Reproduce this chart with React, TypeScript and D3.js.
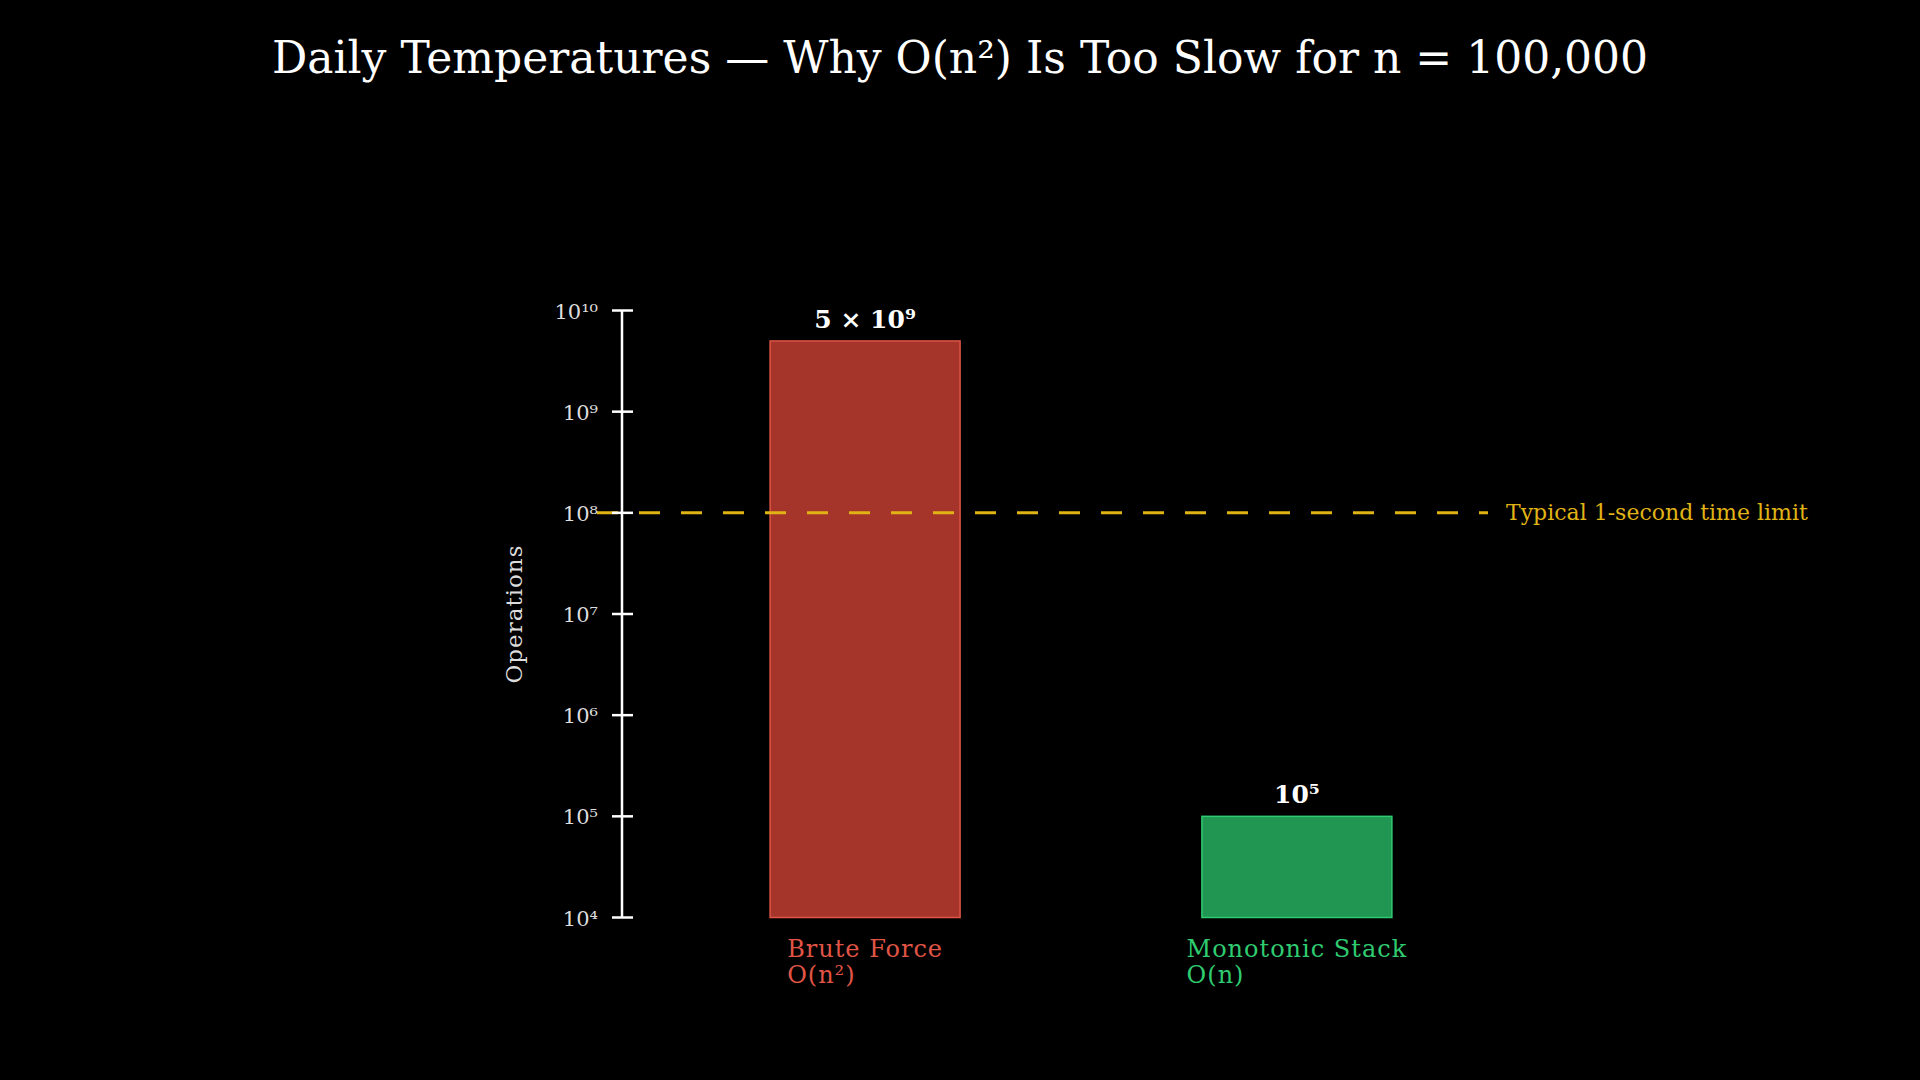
import React from "react";
import * as d3 from "d3";

const categories = ["Brute Force", "Monotonic Stack"];
const complexities = ["O(n²)", "O(n)"];
const operations = [5e9, 1e5];
const valueLabels = ["5 × 10⁹", "10⁵"];
const tickValues = [1e4, 1e5, 1e6, 1e7, 1e8, 1e9, 1e10];
const timeLimit = 1e8;
const timeLimitLabel = "Typical 1-second time limit";

const SUP: Record<string, string> = {
  "0": "⁰", "1": "¹", "2": "²", "3": "³", "4": "⁴",
  "5": "⁵", "6": "⁶", "7": "⁷", "8": "⁸", "9": "⁹",
};
const powerLabel = (v: number) =>
  "10" + String(Math.round(Math.log10(v))).split("").map((c) => SUP[c]).join("");

const FONT = "'DejaVu Serif', serif";
const fills = ["#a5352b", "#219552"];
const strokes = ["#e05545", "#2fcb70"];
const textColors = ["#e05545", "#2fcb70"];
const gold = "#e0b415";

const App = () => {
  const svgRef = React.useRef<SVGSVGElement>(null);

  React.useEffect(() => {
    const svg = d3.select(svgRef.current);
    svg.selectAll("*").remove();

    const width = 1920;
    const height = 1080;
    const axisX = 622;

    const y = d3.scaleLog().domain([1e4, 1e10]).range([917.5, 310.5]);
    const x = d3
      .scaleBand()
      .domain(categories)
      .range([axisX, 1540])
      .paddingInner(0.56)
      .paddingOuter(0.343);

    svg.append("rect").attr("width", width).attr("height", height).attr("fill", "#000");

    // title
    svg
      .append("text")
      .attr("x", width / 2)
      .attr("y", 73)
      .attr("text-anchor", "middle")
      .attr("font-family", FONT)
      .attr("font-size", 44)
      .attr("fill", "#fff")
      .text("Daily Temperatures — Why O(n²) Is Too Slow for n = 100,000");

    // bars
    const data = categories.map((c, i) => ({ c, v: operations[i], i }));
    svg
      .append("g")
      .selectAll("rect")
      .data(data)
      .join("rect")
      .attr("x", (d) => x(d.c)!)
      .attr("width", x.bandwidth())
      .attr("y", (d) => y(d.v))
      .attr("height", (d) => y(1e4) - y(d.v))
      .attr("fill", (d) => fills[d.i])
      .attr("stroke", (d) => strokes[d.i])
      .attr("stroke-width", 1.5);

    // value labels above bars
    svg
      .append("g")
      .selectAll("text")
      .data(data)
      .join("text")
      .attr("x", (d) => x(d.c)! + x.bandwidth() / 2)
      .attr("y", (d) => y(d.v) - 13)
      .attr("text-anchor", "middle")
      .attr("font-family", FONT)
      .attr("font-weight", "bold")
      .attr("font-size", 25)
      .attr("fill", "#fff")
      .text((d) => valueLabels[d.i]);

    // time limit line
    svg
      .append("line")
      .attr("x1", 597)
      .attr("x2", 1488)
      .attr("y1", y(timeLimit))
      .attr("y2", y(timeLimit))
      .attr("stroke", gold)
      .attr("stroke-width", 3)
      .attr("stroke-dasharray", "21,21");
    svg
      .append("text")
      .attr("x", 1506)
      .attr("y", y(timeLimit) + 7)
      .attr("font-family", FONT)
      .attr("font-size", 22)
      .attr("fill", gold)
      .text(timeLimitLabel);

    // y axis
    const axis = svg.append("g").attr("transform", `translate(${axisX},0)`);
    axis
      .append("line")
      .attr("y1", y(1e4))
      .attr("y2", y(1e10))
      .attr("stroke", "#fff")
      .attr("stroke-width", 2.5);
    const ticks = axis.selectAll("g.tick").data(tickValues).join("g").attr("class", "tick");
    ticks
      .append("line")
      .attr("x1", -10)
      .attr("x2", 11)
      .attr("y1", (d) => y(d))
      .attr("y2", (d) => y(d))
      .attr("stroke", "#fff")
      .attr("stroke-width", 2.5);
    ticks
      .append("text")
      .attr("x", -24)
      .attr("y", (d) => y(d) + 8)
      .attr("text-anchor", "end")
      .attr("font-family", FONT)
      .attr("font-size", 21)
      .attr("fill", "#ddd")
      .text((d) => powerLabel(d));

    svg
      .append("text")
      .attr("transform", `translate(522,614) rotate(-90)`)
      .attr("text-anchor", "middle")
      .attr("font-family", FONT)
      .attr("font-size", 23)
      .attr("letter-spacing", 1)
      .attr("fill", "#ddd")
      .text("Operations");

    // category labels: block centred under the bar, lines left-aligned
    data.forEach((d) => {
      const cx = x(d.c)! + x.bandwidth() / 2;
      const t = svg
        .append("text")
        .attr("font-family", FONT)
        .attr("font-size", 24)
        .attr("letter-spacing", 1)
        .attr("fill", textColors[d.i]);
      t.append("tspan").attr("x", 0).attr("y", 957).text(d.c);
      t.append("tspan").attr("x", 0).attr("y", 983).text(complexities[d.i]);
      const w = (t.node() as SVGTextElement).getBBox().width;
      t.selectAll("tspan").attr("x", cx - w / 2);
    });
  }, []);

  return (
    <div style={{ position: "fixed", left: 0, top: 0, width: 1920, height: 1080, background: "#000" }}>
      <svg ref={svgRef} width={1920} height={1080} style={{ display: "block" }} />
    </div>
  );
};

export default App;
